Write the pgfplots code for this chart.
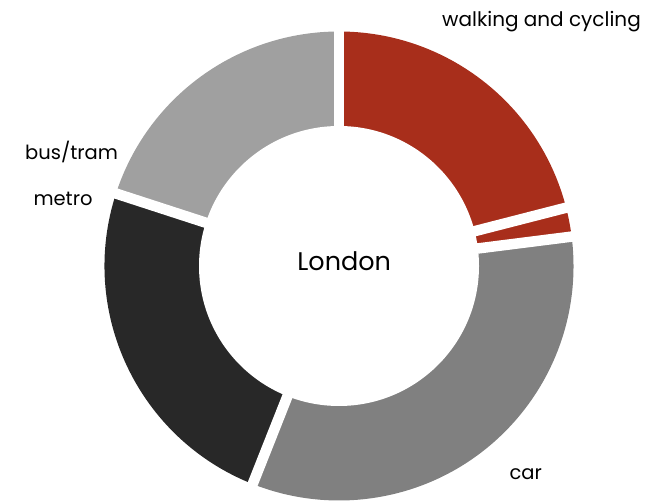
\documentclass[border=0pt]{standalone}
\usepackage{pgfplots}
\pgfplotsset{compat=1.18}
\usepackage{fontspec}
\setmainfont{Poppins}
\definecolor{wcred}{RGB}{168,46,27}
\definecolor{busgray}{RGB}{160,160,160}
\definecolor{metroblack}{RGB}{40,40,40}
\definecolor{cargray}{RGB}{128,128,128}
\begin{document}
\begin{tikzpicture}
\begin{axis}[
  scale only axis, width=668bp, height=502bp,
  xmin=0, xmax=668, ymin=0, ymax=502,
  hide axis, clip=false,
]
% shares (percent), clockwise from 12 o'clock
\xdef\cum{0}
\foreach \v/\c in {21/wcred, 2/wcred, 33/cargray, 24/metroblack, 20/busgray} {
  \pgfmathsetmacro{\aa}{90-3.6*\cum}
  \pgfmathsetmacro{\bb}{90-3.6*(\cum+\v)}
  \edef\temp{\noexpand\fill[\c] (axis cs:339,236) -- ++(\aa:234.5bp) arc[start angle=\aa, end angle=\bb, radius=234.5bp] -- cycle;}
  \temp
  \pgfmathparse{\cum+\v}\xdef\cum{\pgfmathresult}
}
\xdef\cum{0}
\foreach \v in {21, 2, 33, 24, 20} {
  \pgfmathsetmacro{\aa}{90-3.6*\cum}
  \edef\temp{\noexpand\draw[white, line width=10.5bp] (axis cs:339,236) -- ++(\aa:237bp);}
  \temp
  \pgfmathparse{\cum+\v}\xdef\cum{\pgfmathresult}
}
\fill[white] (axis cs:339,236) circle[radius=140bp];
\node[anchor=base west, font=\fontsize{20bp}{22bp}\selectfont, inner sep=0pt] at (axis cs:442,475) {walking and cycling};
\node[anchor=base west, font=\fontsize{19.5bp}{22bp}\selectfont, inner sep=0pt] at (axis cs:25,342.7) {bus/tram};
\node[anchor=base west, font=\fontsize{19.5bp}{22bp}\selectfont, inner sep=0pt] at (axis cs:33.3,296) {metro};
\node[anchor=base west, font=\fontsize{19.5bp}{22bp}\selectfont, inner sep=0pt] at (axis cs:509.3,22.7) {car};
\node[anchor=base, font=\fontsize{25.5bp}{28bp}\selectfont, inner sep=0pt] at (axis cs:344.2,231.3) {London};
\end{axis}
\pgfresetboundingbox
\path (current axis.south west) rectangle (current axis.north east);
\end{tikzpicture}
\end{document}
